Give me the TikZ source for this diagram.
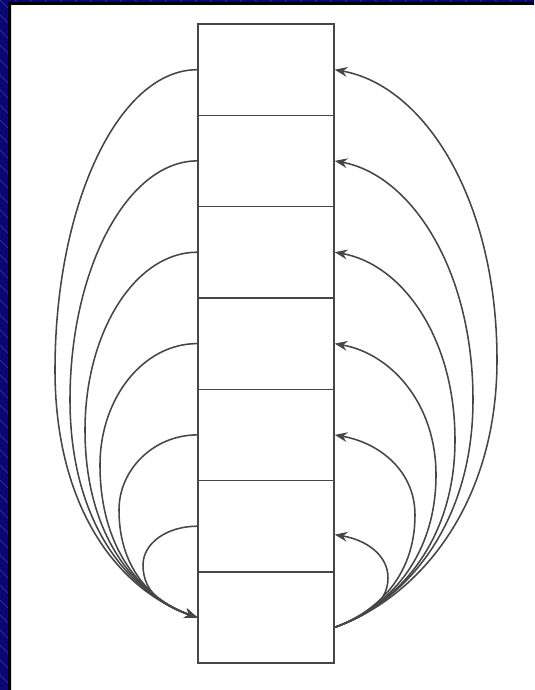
\documentclass[tikz,border=0pt]{standalone}
\usetikzlibrary{arrows.meta}
\definecolor{slideblue}{RGB}{8,8,112}
\definecolor{hatchblue}{RGB}{58,58,165}
\definecolor{ink}{RGB}{70,70,70}
\tikzset{
  cell/.style={draw=ink, line width=1pt, minimum width=3.4cm,
    minimum height=2.283cm, inner sep=0pt},
  link/.style={draw=ink, line width=1.1pt,
    -{Stealth[length=9pt,width=7pt,inset=3pt]}},
}
\begin{document}
\begin{tikzpicture}[x=0.025cm,y=-0.025cm]
  \useasboundingbox (0,0) rectangle (534,690);
  \fill[white] (0,0) rectangle (534,690);
  % slide frame
  \fill[slideblue] (0,0) rectangle (534,2) (0,0) rectangle (8,690);
  \begin{scope}
    \clip (0,0) rectangle (534,2) (0,0) rectangle (8,690);
    \foreach \i in {-690,-675,...,540}
      \draw[hatchblue, line width=0.4pt] (\i,0) -- (\i+700,700);
  \end{scope}
  \fill[black] (8,2) rectangle (534,5) (8,2) rectangle (11,690);

  \node[cell] (b1) at (266,69.7) {};
  \node[cell] (b2) at (266,160.9) {};
  \node[cell] (b3) at (266,252.2) {};
  \node[cell] (b4) at (266,343.6) {};
  \node[cell] (b5) at (266,434.9) {};
  \node[cell] (b6) at (266,526.2) {};
  \node[cell] (b7) at (266,617.5) {};

  % left side, all into the last cell
  \draw[link] (b1.west) .. controls +(-79,0) and +(0,-165) .. (55,370)
    .. controls +(0,138) and +(-79,-28) .. (b7.west);
  \draw[link] (b2.west) .. controls +(-70,0) and +(0,-131) .. (70,400)
    .. controls +(0,121) and +(-70,-25) .. (b7.west);
  \draw[link] (b3.west) .. controls +(-62,0) and +(0,-98) .. (85,430)
    .. controls +(0,105) and +(-62,-22) .. (b7.west);
  \draw[link] (b4.west) .. controls +(-54,0) and +(0,-67) .. (100,465)
    .. controls +(0,85) and +(-54,-19) .. (b7.west);
  \draw[link] (b5.west) .. controls +(-43,0) and +(0,-41) .. (119,510)
    .. controls +(0,61) and +(-43,-15) .. (b7.west);
  \draw[link] (b6.west) .. controls +(-30,0) and +(0,-22) .. (143,565)
    .. controls +(0,30) and +(-30,-10.5) .. (b7.west);

  % right side, out of the last cell
  \draw[link] ([yshift=-7pt]b7.east) .. controls +(82,-29) and +(0,147) .. (497,360)
    .. controls +(0,-160) and +(90,16) .. (b1.east);
  \draw[link] ([yshift=-7pt]b7.east) .. controls +(70,-25) and +(0,125) .. (473,400)
    .. controls +(0,-131) and +(76,14) .. (b2.east);
  \draw[link] ([yshift=-7pt]b7.east) .. controls +(61,-22) and +(0,103) .. (455,440)
    .. controls +(0,-103) and +(67,12) .. (b3.east);
  \draw[link] ([yshift=-7pt]b7.east) .. controls +(51,-18) and +(0,84) .. (436,475)
    .. controls +(0,-72) and +(56,10) .. (b4.east);
  \draw[link] ([yshift=-7pt]b7.east) .. controls +(41,-15) and +(0,62) .. (415,515)
    .. controls +(0,-44) and +(45,8) .. (b5.east);
  \draw[link] ([yshift=-7pt]b7.east) .. controls +(27,-10) and +(0,27) .. (388,578)
    .. controls +(0,-24) and +(30,5) .. ([yshift=-6pt]b6.east);
\end{tikzpicture}
\end{document}
